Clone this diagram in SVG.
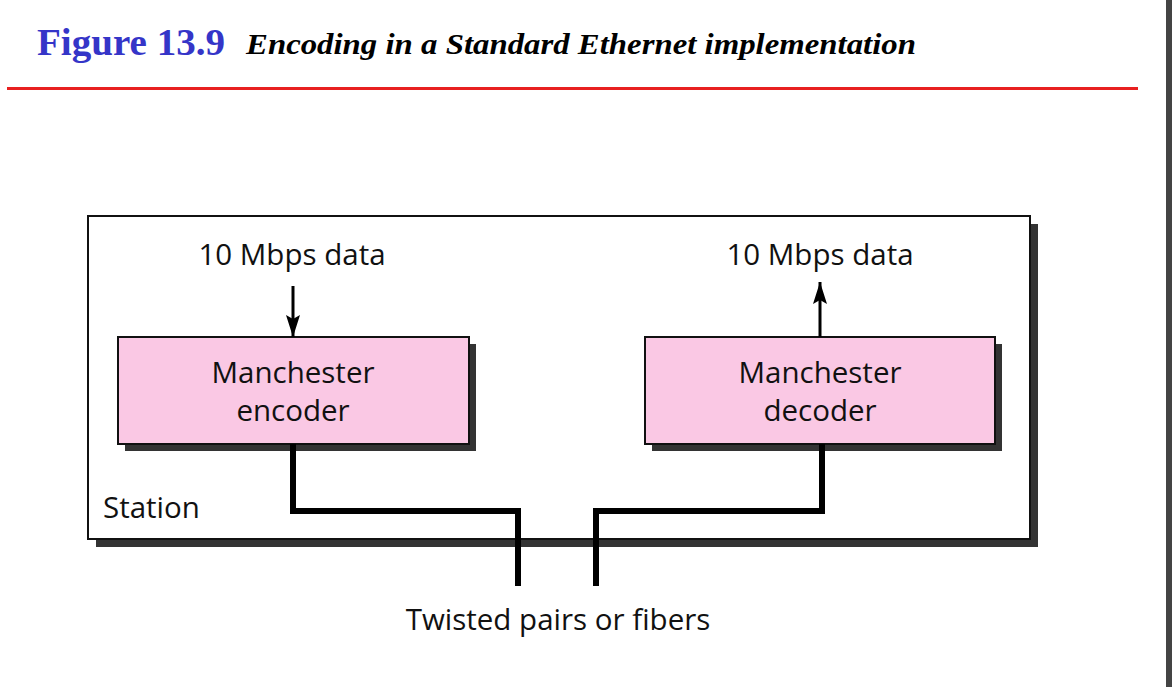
<svg xmlns="http://www.w3.org/2000/svg" width="1172" height="687" viewBox="0 0 1172 687">
<style>
.t{font-family:"Open Sans","Noto Sans","Liberation Sans",sans-serif;font-size:29.5px;fill:#111}
.box{fill:#fac8e4;stroke:#111;stroke-width:2}
.sh{fill:#333}
.wire{fill:none;stroke:#000;stroke-width:6;stroke-linejoin:miter}
.arr{stroke:#000;stroke-width:3}
</style>
<defs>
<marker id="ah" viewBox="0 0 22 14" refX="22" refY="7" markerWidth="22" markerHeight="14" markerUnits="userSpaceOnUse" orient="auto">
<path d="M0,0 L22,7 L0,14 L4,7 z" fill="#000"/>
</marker>
</defs>
<rect width="1172" height="687" fill="#fff"/>
<rect x="1166" y="0" width="6" height="687" fill="#444"/>
<g id="title">
<text x="37" y="55" font-family="Liberation Serif,serif" font-weight="bold" font-size="38" fill="#3535c8" textLength="188" lengthAdjust="spacingAndGlyphs">Figure 13.9</text>
<text x="246" y="54" font-family="Liberation Serif,serif" font-weight="bold" font-style="italic" font-size="30" fill="#000" textLength="670" lengthAdjust="spacingAndGlyphs">Encoding in a Standard Ethernet implementation</text>
<rect x="7" y="87" width="1131" height="3" fill="#e82020"/>
</g>
<g id="station">
<rect class="sh" x="96" y="224" width="942" height="323"/>
<rect x="88" y="216" width="942" height="323" fill="#fff" stroke="#111" stroke-width="2"/>
<text class="t" x="103" y="518">Station</text>
</g>
<g id="encoder">
<rect class="sh" x="125" y="344" width="351" height="107"/>
<rect class="box" x="118" y="337" width="351" height="107"/>
<text class="t" x="293" y="383" text-anchor="middle">Manchester</text>
<text class="t" x="293" y="421" text-anchor="middle">encoder</text>
</g>
<g id="decoder">
<rect class="sh" x="652" y="344" width="350" height="107"/>
<rect class="box" x="645" y="337" width="350" height="107"/>
<text class="t" x="820" y="383" text-anchor="middle">Manchester</text>
<text class="t" x="820" y="421" text-anchor="middle">decoder</text>
</g>
<g id="labels">
<text class="t" x="292" y="265" text-anchor="middle">10 Mbps data</text>
<text class="t" x="820" y="265" text-anchor="middle">10 Mbps data</text>
<text class="t" x="558" y="630" text-anchor="middle">Twisted pairs or fibers</text>
</g>
<g id="connectors">
<line class="arr" x1="293" y1="286" x2="293" y2="337" marker-end="url(#ah)"/>
<line class="arr" x1="820" y1="337" x2="820" y2="282" marker-end="url(#ah)"/>
<path class="wire" d="M293,444 V511 H518 V586"/>
<path class="wire" d="M822,444 V511 H596 V586"/>
</g>
</svg>
